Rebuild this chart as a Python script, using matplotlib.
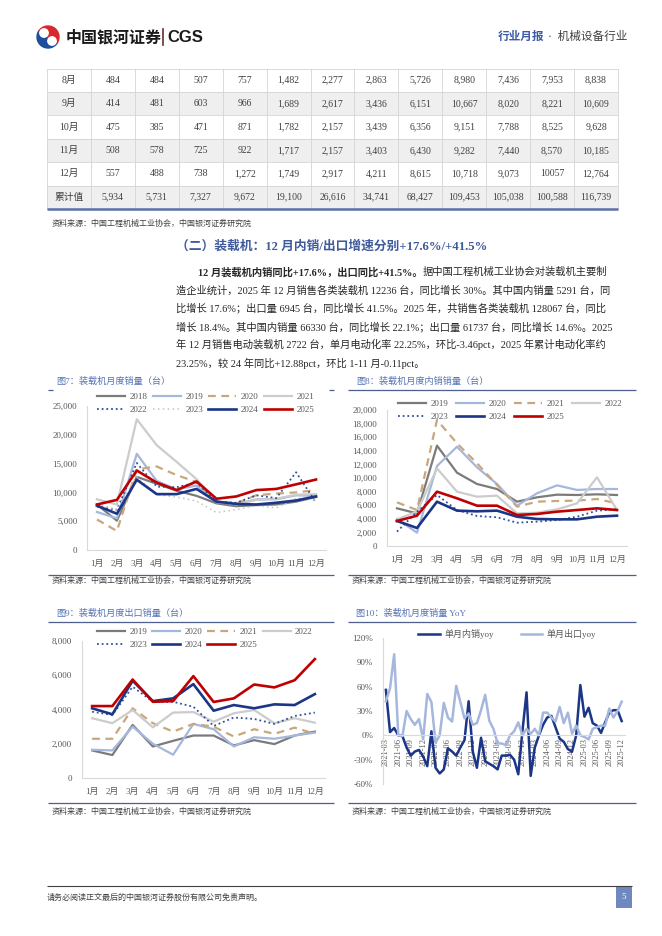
import matplotlib
matplotlib.use("Agg")
import matplotlib.pyplot as plt
from matplotlib.patches import Rectangle, Wedge, Circle

plt.rcParams["font.family"] = ["Liberation Serif", "Noto Sans CJK SC"]

W, H = 662, 936

# ---------------- data ----------------
months = ["1月", "2月", "3月", "4月", "5月", "6月", "7月", "8月", "9月", "10月", "11月", "12月"]

table_rows = ["8月", "9月", "10月", "11月", "12月", "累计值"]
table_vals = [
    ["484", "484", "507", "757", "1,482", "2,277", "2,863", "5,726", "8,980", "7,436", "7,953", "8,838"],
    ["414", "481", "603", "966", "1,689", "2,617", "3,436", "6,151", "10,667", "8,020", "8,221", "10,609"],
    ["475", "385", "471", "871", "1,782", "2,157", "3,439", "6,356", "9,151", "7,788", "8,525", "9,628"],
    ["508", "578", "725", "922", "1,717", "2,157", "3,403", "6,430", "9,282", "7,440", "8,570", "10,185"],
    ["557", "488", "738", "1,272", "1,749", "2,917", "4,211", "8,615", "10,718", "9,073", "10057", "12,764"],
    ["5,934", "5,731", "7,327", "9,672", "19,100", "26,616", "34,741", "68,427", "109,453", "105,038", "100,588", "116,739"],
]

# 图7 装载机月度销量（台）
total_years = ["2018", "2019", "2020", "2021", "2022", "2023", "2024", "2025"]
total_2018 = [7900, 5100, 12700, 11500, 10300, 9400, 8100, 7600, 7800, 7900, 8400, 9200]
total_2019 = [6600, 5500, 16700, 12000, 10500, 11200, 8300, 8000, 8800, 8800, 9500, 9400]
total_2020 = [5300, 3300, 14000, 14500, 13000, 11800, 8400, 8100, 9500, 9800, 10000, 10400]
total_2021 = [8800, 7900, 22700, 18200, 15300, 12300, 8500, 7900, 8700, 8900, 9600, 9700]
total_2022 = [7500, 7000, 15100, 11000, 10900, 11700, 8400, 8200, 9500, 9000, 13500, 8200]
total_2023 = [8000, 7000, 12700, 9600, 9200, 8500, 6500, 7000, 7700, 7300, 9000, 8700]
total_2024 = [7700, 6300, 12200, 9700, 9700, 10600, 8400, 8000, 7900, 8200, 8600, 9300]
total_2025 = [7900, 8700, 13800, 11700, 10400, 11900, 8900, 9300, 10400, 10600, 11400, 12236]

# 图8 装载机月度内销销量（台）
dom_years = ["2019", "2020", "2021", "2022", "2023", "2024", "2025"]
dom_2019 = [5540, 4800, 14760, 10780, 9120, 8380, 6520, 7160, 7550, 7500, 7600, 7500]
dom_2020 = [3970, 1960, 11760, 14600, 11570, 9120, 5930, 7750, 8920, 8240, 8380, 8380]
dom_2021 = [6420, 5290, 18530, 15100, 12160, 8970, 5780, 6520, 6620, 6670, 6910, 6270]
dom_2022 = [3920, 5050, 11420, 7990, 7250, 7400, 4800, 4900, 5390, 6270, 10100, 5290]
dom_2023 = [2110, 5050, 7500, 5290, 4410, 4220, 3430, 3580, 3820, 4310, 5200, 5390]
dom_2024 = [3680, 2650, 6520, 5200, 5100, 5200, 4310, 3970, 3920, 3920, 4310, 4460]
dom_2025 = [3680, 4460, 7990, 7010, 5930, 5930, 4560, 4710, 5050, 5290, 5540, 5291]

# 图9 装载机月度出口销量（台）
exp_years = ["2019", "2020", "2021", "2022", "2023", "2024", "2025"]
exp_2019 = [1610, 1340, 3100, 1840, 2170, 2480, 2480, 1900, 2210, 1980, 2480, 2710]
exp_2020 = [1650, 1610, 3000, 2000, 1360, 3160, 2850, 1840, 2380, 2290, 2480, 2650]
exp_2021 = [2290, 2290, 4070, 3200, 2710, 3160, 3000, 2420, 2850, 2580, 2940, 2580]
exp_2022 = [3490, 3200, 3970, 2960, 3820, 3850, 3290, 3780, 3970, 3200, 3490, 3230]
exp_2023 = [3870, 3680, 5330, 4450, 4450, 4160, 3040, 3530, 3450, 3160, 3620, 3820]
exp_2024 = [4070, 3720, 5680, 4490, 4650, 5480, 3930, 4260, 4070, 4300, 4260, 4900]
exp_2025 = [4200, 4200, 5750, 4450, 4490, 5950, 4440, 4650, 5460, 5290, 5710, 6945]

# 图10 装载机月度销量 YoY（%），2021-03 ~ 2025-12
yoy_ticks = ["2021-03", "2021-06", "2021-09", "2021-12", "2022-03", "2022-06", "2022-09",
             "2022-12", "2023-03", "2023-06", "2023-09", "2023-12", "2024-03", "2024-06",
             "2024-09", "2024-12", "2025-03", "2025-06", "2025-09", "2025-12"]
dom_yoy = [56, 4, 9, 0, -1, -15, -25, -20, -18, -26,
           -38, 5, -40, -47, -42, -16, -20, -25, -15, -6,
           42, -20, -40, -3, -32, -35, -38, -42, -25, -25,
           -24, -30, -48, 5, 53, -50, -15, 0, 13, 22,
           24, 10, -4, -8, -17, -20, 0, 62, 23, 34,
           15, 12, 3, 16, 28, 31, 31, 17.6]
exp_yoy = [42, 58, 100, 0, -1, 30, 20, 13, 20, -5,
           51, 41, -9, 0, 40, 22, 17, 61, 41, 21,
           27, 13, 15, 31, 50, 18, 8, -10, -10, -12,
           0, 5, 16, 0, 8, 2, 8, 0, 28, 28,
           22, 17, 35, 15, 28, 2, 12, 0, -2, -5,
           8, 10, 12, 12, 33, 22, 30, 41.5]

# ---------------- styles ----------------
TITLE_BLUE = "#5472b4"
HEAD_BLUE = "#3f5b9c"
RULE = "#4d5f8f"
TXT = "#262626"
TICK = "#595959"

year_style = {
    "2018": dict(color="#7b7b7b", lw=1.6),
    "2019": dict(color="#a6b7dd", lw=1.6),
    "2020": dict(color="#c9a77c", lw=1.6, dashes=(3.5, 2.5)),
    "2021": dict(color="#cccccc", lw=1.6),
    "2022": dict(color="#2f4f9f", lw=1.3, linestyle=(0, (1, 1.6))),
    "2023": dict(color="#c4c4c4", lw=1.1, linestyle=(0, (1, 2.2))),
    "2024": dict(color="#1b3587", lw=1.9),
    "2025": dict(color="#c00000", lw=1.9),
}
# 图8/图9 颜色顺序不同
year_style2 = {
    "2019": year_style["2018"],
    "2020": year_style["2019"],
    "2021": year_style["2020"],
    "2022": year_style["2021"],
    "2023": year_style["2022"],
    "2024": year_style["2024"],
    "2025": year_style["2025"],
}

fig = plt.figure(figsize=(W / 100, H / 100), dpi=100)
page = fig.add_axes([0, 0, 1, 1])
page.set_xlim(0, W)
page.set_ylim(H, 0)
page.axis("off")


def rect(l, t, r, b):
    return [l / W, 1 - b / H, (r - l) / W, (b - t) / H]


def hline(x0, x1, y, color=RULE, lw=0.9):
    page.plot([x0, x1], [y, y], color=color, lw=lw, solid_capstyle="butt")


# ---------------- header ----------------
page.add_patch(Wedge((48, 37), 11, 35, 215, color="#1d4f9c"))
page.add_patch(Wedge((48, 37), 11, 215, 395, color="#d7282f"))
page.add_patch(Circle((44, 33), 4.2, color="white"))
page.add_patch(Circle((52, 41), 4.2, color="white"))
page.text(66, 37, "中国银河证券", fontsize=11.5, fontweight="bold", family="Noto Sans CJK SC",
          va="center", color="#1a1a1a")
page.plot([163, 163], [29, 45], color="#6b2b2b", lw=1.2)
page.text(167, 37.5, "CGS", fontsize=12, fontweight="bold", family="Liberation Sans",
          va="center", color="#1a1a1a")
page.text(498, 37, "行业月报", fontsize=8.4, va="center", color="#3b5ba5", fontweight="bold")
page.text(548, 37, "·  机械设备行业", fontsize=8.4, va="center", color="#404040")

# ---------------- table ----------------
tx0, tx1 = 47, 618
col_w = (tx1 - tx0) / 13
row_h = 23.4
ty0 = 68.5
for i, (lab, vals) in enumerate(zip(table_rows, table_vals)):
    top = ty0 + i * row_h
    if i % 2 == 1:
        page.add_patch(Rectangle((tx0, top), tx1 - tx0, row_h, color="#efefef", lw=0))
    hline(tx0, tx1, top, color="#d4d4d4", lw=0.6)
    yc = top + row_h / 2
    page.text(tx0 + col_w / 2, yc, lab, fontsize=7, ha="center", va="center", color="#404040")
    for j, v in enumerate(vals):
        page.text(tx0 + col_w * (j + 1.5), yc, v, fontsize=7, ha="center", va="center", color="#404040")
tb = ty0 + len(table_rows) * row_h
for j in range(14):
    xx = tx0 + j * col_w
    page.plot([xx, xx], [ty0, tb], color="#d4d4d4", lw=0.6)
hline(tx0, tx1, tb, color="#5b6fa8", lw=1.8)
page.text(52, 224, "资料来源：中国工程机械工业协会，中国银河证券研究院", fontsize=5.8,
          va="center", color="#404040")

# ---------------- section text ----------------
page.text(176, 246, "（二）装载机：12 月内销/出口增速分别+17.6%/+41.5%", fontsize=9.2,
          fontweight="bold", va="center", color=HEAD_BLUE)

body = [
    "造企业统计，2025 年 12 月销售各类装载机 12236 台，同比增长 30%。其中国内销量 5291 台，同",
    "比增长 17.6%；出口量 6945 台，同比增长 41.5%。2025 年，共销售各类装载机 128067 台，同比",
    "增长 18.4%。其中国内销量 66330 台，同比增长 22.1%；出口量 61737 台，同比增长 14.6%。2025",
    "年 12 月销售电动装载机 2722 台，单月电动化率 22.25%，环比-3.46pct，2025 年累计电动化率约",
    "23.25%，较 24 年同比+12.88pct，环比 1-11 月-0.11pct。",
]
fs_body = 7.4
line_y0, line_dy = 272, 18.2
t_bold = page.text(198, line_y0, "12 月装载机内销同比+17.6%，出口同比+41.5%。", fontsize=fs_body,
                   fontweight="bold", va="center", color=TXT)
fig.canvas.draw()
bb = t_bold.get_window_extent()
page.text(bb.x1, line_y0, "据中国工程机械工业协会对装载机主要制", fontsize=fs_body, va="center", color=TXT)
for k, s in enumerate(body):
    page.text(176, line_y0 + (k + 1) * line_dy, s, fontsize=fs_body, va="center", color=TXT)

# ---------------- chart frames ----------------
src = "资料来源：中国工程机械工业协会，中国银河证券研究院"
page.text(56, 381, "图7：装载机月度销量（台）", fontsize=6.6, va="center", color=TITLE_BLUE)
hline(48, 53, 390)
hline(329, 334, 390)
hline(48, 334, 575)
page.text(52, 581, src, fontsize=5.8, va="center", color="#404040")

page.text(356, 381, "图8：装载机月度内销销量（台）", fontsize=6.6, va="center", color=TITLE_BLUE)
hline(348, 636, 390)
hline(348, 636, 575)
page.text(352, 581, src, fontsize=5.8, va="center", color="#404040")

page.text(56, 613, "图9：装载机月度出口销量（台）", fontsize=6.6, va="center", color=TITLE_BLUE)
hline(48, 334, 622)
hline(48, 334, 803)
page.text(52, 812, src, fontsize=5.8, va="center", color="#404040")

page.text(356, 613, "图10：装载机月度销量 YoY", fontsize=6.6, va="center", color=TITLE_BLUE)
hline(348, 636, 622)
hline(348, 636, 803)
page.text(352, 812, src, fontsize=5.8, va="center", color="#404040")


def style_axes(ax, ypad):
    ax.patch.set_alpha(0)
    for s in ["top", "right"]:
        ax.spines[s].set_visible(False)
    for s in ["left", "bottom"]:
        ax.spines[s].set_color("#d9d9d9")
        ax.spines[s].set_linewidth(0.8)
    ax.tick_params(length=0, labelsize=6.5, labelcolor=TICK)
    ax.tick_params(axis="y", pad=ypad)


def month_chart(box, names, series, styles, ymax, yticks, ylabels, ypad, leg_xy, colsp):
    ax = fig.add_axes(rect(*box))
    handles = []
    for name, vals in zip(names, series):
        h, = ax.plot(range(12), vals, label=name, **styles[name])
        handles.append(h)
    ax.set_xlim(-0.5, 11.5)
    ax.set_ylim(0, ymax)
    ax.set_xticks(range(12))
    ax.set_xticklabels(months)
    ax.set_yticks(yticks)
    ax.set_yticklabels(ylabels)
    style_axes(ax, ypad)
    ax.tick_params(axis="x", pad=7)
    n = len(handles)
    order = [r * 4 + c for c in range(4) for r in range(2) if r * 4 + c < n]
    ax.legend(handles=[handles[i] for i in order], loc="upper left",
              bbox_to_anchor=(leg_xy[0] / W, 1 - leg_xy[1] / H), bbox_transform=fig.transFigure,
              ncol=4, frameon=False, fontsize=6.5, handlelength=3.1, handletextpad=0.5,
              columnspacing=colsp, labelspacing=0.45, borderpad=0, borderaxespad=0,
              labelcolor=TICK)
    return ax


month_chart((87, 406, 326, 550), total_years,
            [total_2018, total_2019, total_2020, total_2021, total_2022, total_2023, total_2024, total_2025],
            year_style, 25000, [0, 5000, 10000, 15000, 20000, 25000],
            ["0", "5,000", "10,000", "15,000", "20,000", "25,000"], 7, (97, 393), 0.6)

month_chart((387, 410, 627, 546), dom_years,
            [dom_2019, dom_2020, dom_2021, dom_2022, dom_2023, dom_2024, dom_2025],
            year_style2, 20000, list(range(0, 20001, 2000)),
            ["0", "2,000", "4,000", "6,000", "8,000", "10,000", "12,000", "14,000", "16,000",
             "18,000", "20,000"], 7, (398, 400), 0.85)

month_chart((82, 641, 325, 778), exp_years,
            [exp_2019, exp_2020, exp_2021, exp_2022, exp_2023, exp_2024, exp_2025],
            year_style2, 8000, [0, 2000, 4000, 6000, 8000],
            ["0", "2,000", "4,000", "6,000", "8,000"], 7, (97, 628), 0.55)

# 图10
ax10 = fig.add_axes(rect(383, 638, 625, 784))
hd, = ax10.plot(range(len(dom_yoy)), dom_yoy, color="#1b3587", lw=1.8, label="单月内销yoy")
he, = ax10.plot(range(len(exp_yoy)), exp_yoy, color="#a6b7dd", lw=1.8, label="单月出口yoy")
style_axes(ax10, 7)
ax10.spines["bottom"].set_position(("data", 0))
ax10.set_xlim(-0.7, 57.8)
ax10.set_ylim(-60, 120)
ax10.set_yticks([-60, -30, 0, 30, 60, 90, 120])
ax10.set_yticklabels(["-60%", "-30%", "0%", "30%", "60%", "90%", "120%"])
ax10.set_xticks(range(0, 58, 3))
ax10.set_xticklabels(yoy_ticks)
ax10.tick_params(axis="x", pad=2, labelsize=6, labelrotation=90, length=0)
ax10.tick_params(axis="y", length=0, labelsize=6.5, labelcolor=TICK, pad=7)
ax10.tick_params(axis="x", labelcolor=TICK)
ax10.legend(handles=[hd, he], loc="upper left", bbox_to_anchor=(418 / W, 1 - 629 / H),
            bbox_transform=fig.transFigure, ncol=2, frameon=False, fontsize=6.5,
            handlelength=2.4, handletextpad=0.5, columnspacing=3.0, borderpad=0,
            borderaxespad=0, labelcolor=TICK)

# ---------------- footer ----------------
hline(47, 632, 886, color="#404040", lw=0.8)
page.text(47, 898, "请务必阅读正文最后的中国银河证券股份有限公司免责声明。", fontsize=5.8,
          va="center", color="#404040")
page.add_patch(Rectangle((616, 886), 16, 22, color="#7088c0", lw=0))
page.text(624, 897, "5", fontsize=6.5, ha="center", va="center", color="white")

fig.savefig("out.png", dpi=100)
